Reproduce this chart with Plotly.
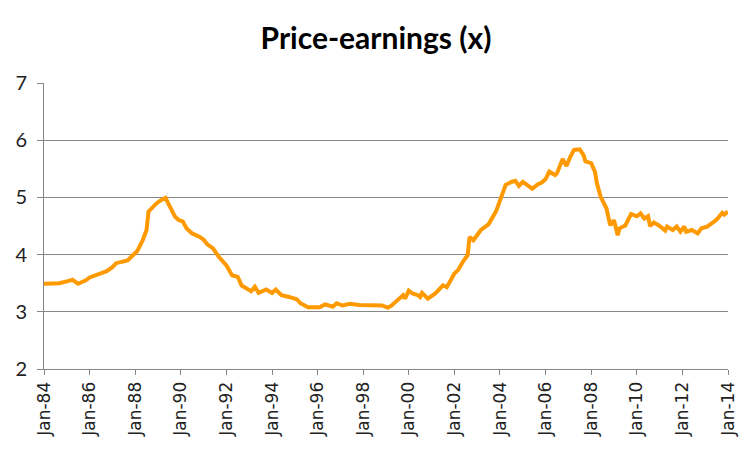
import plotly.graph_objects as go

# monthly price-earnings readings (dates and values)
dates = [
    "1984-01", "1984-09", "1985-02", "1985-04", "1985-07", "1985-11", "1986-01", "1986-07",
    "1986-10", "1987-01", "1987-03", "1987-09", "1987-11", "1988-02", "1988-05", "1988-07",
    "1988-08", "1988-12", "1989-03", "1989-05", "1989-06", "1989-08", "1989-10", "1989-12",
    "1990-02", "1990-04", "1990-07", "1990-11", "1991-01", "1991-03", "1991-06", "1991-09",
    "1992-01", "1992-04", "1992-07", "1992-09", "1992-11", "1993-02", "1993-04", "1993-06",
    "1993-10", "1994-01", "1994-03", "1994-06", "1994-10", "1995-02", "1995-04", "1995-08",
    "1996-02", "1996-05", "1996-09", "1996-11", "1997-02", "1997-06", "1997-11", "1998-04",
    "1998-08", "1998-11", "1999-02", "1999-04", "1999-07", "1999-10", "1999-11", "2000-01",
    "2000-03", "2000-06", "2000-07", "2000-08", "2000-11", "2001-03", "2001-07", "2001-09",
    "2002-01", "2002-03", "2002-06", "2002-08", "2002-09", "2002-11", "2003-03", "2003-07",
    "2003-11", "2004-01", "2004-04", "2004-07", "2004-09", "2004-11", "2005-01", "2005-04",
    "2005-06", "2005-09", "2005-11", "2006-01", "2006-03", "2006-06", "2006-07", "2006-10",
    "2006-12", "2007-02", "2007-04", "2007-07", "2007-09", "2007-10", "2008-01", "2008-03",
    "2008-04", "2008-06", "2008-09", "2008-11", "2009-01", "2009-03", "2009-04", "2009-07",
    "2009-10", "2010-01", "2010-03", "2010-05", "2010-07", "2010-08", "2010-10", "2011-01",
    "2011-04", "2011-05", "2011-08", "2011-10", "2011-12", "2012-02", "2012-03", "2012-06",
    "2012-09", "2012-11", "2013-02", "2013-05", "2013-07", "2013-10", "2013-11", "2014-01",
]
pe_ratio = [
    3.49, 3.50, 3.54, 3.56, 3.49, 3.55, 3.60, 3.68,
    3.71, 3.78, 3.85, 3.90, 3.96, 4.06, 4.25, 4.43,
    4.75, 4.89, 4.96, 4.99, 4.92, 4.78, 4.66, 4.60,
    4.58, 4.46, 4.37, 4.31, 4.26, 4.18, 4.11, 3.96,
    3.81, 3.64, 3.61, 3.46, 3.42, 3.36, 3.44, 3.33,
    3.39, 3.33, 3.39, 3.29, 3.26, 3.22, 3.15, 3.08,
    3.08, 3.13, 3.09, 3.15, 3.11, 3.14, 3.12, 3.12,
    3.11, 3.11, 3.07, 3.11, 3.20, 3.29, 3.23, 3.37,
    3.32, 3.29, 3.26, 3.33, 3.23, 3.32, 3.46, 3.43,
    3.67, 3.73, 3.90, 3.99, 4.31, 4.25, 4.43, 4.53,
    4.76, 4.95, 5.22, 5.27, 5.29, 5.20, 5.27, 5.20,
    5.15, 5.23, 5.26, 5.32, 5.45, 5.39, 5.42, 5.67,
    5.55, 5.71, 5.83, 5.84, 5.74, 5.63, 5.60, 5.45,
    5.25, 5.01, 4.81, 4.51, 4.60, 4.34, 4.46, 4.51,
    4.71, 4.67, 4.72, 4.63, 4.67, 4.50, 4.56, 4.50,
    4.42, 4.49, 4.43, 4.49, 4.40, 4.49, 4.40, 4.43,
    4.37, 4.46, 4.49, 4.56, 4.61, 4.73, 4.70, 4.75,
]

fig = go.Figure()
fig.add_trace(go.Scatter(
    x=dates, y=pe_ratio, mode="lines",
    line=dict(color="#FF9900", width=4),
    showlegend=False))

axis_gray = "#868686"
fig.update_layout(
    width=752, height=451,
    paper_bgcolor="white", plot_bgcolor="white",
    margin=dict(l=44, r=24, t=83, b=82),
    title=dict(text="<b>Price-earnings (x)</b>", x=0.5, xanchor="center",
               y=0.915, yanchor="middle",
               font=dict(family="Lato", size=30, color="black")),
    xaxis=dict(
        type="date", range=["1984-01-01", "2014-01-01"],
        tick0="1984-01-01", dtick="M24", tickformat="%b-%y",
        tickangle=-90, ticks="outside", ticklen=5, tickcolor=axis_gray,
        showline=True, linecolor=axis_gray, linewidth=1,
        showgrid=False, zeroline=False, automargin=False,
        tickfont=dict(family="DejaVu Sans", size=17, color="#222222")),
    yaxis=dict(
        range=[2, 7], dtick=1, ticks="outside", ticklen=6, tickcolor=axis_gray,
        showline=True, linecolor=axis_gray, linewidth=1,
        showgrid=True, gridcolor=axis_gray, gridwidth=1, zeroline=False,
        automargin=False, ticklabelstandoff=6,
        tickfont=dict(family="Lato", size=20, color="#222222")),
)

# drop the browser's default body margin so the figure sits at the page corner
fig.write_html("out.html", config={"displayModeBar": False},
               post_script="document.body.style.margin='0';")
